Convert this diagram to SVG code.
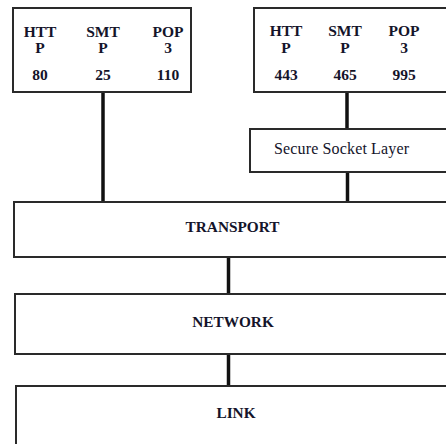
<svg xmlns="http://www.w3.org/2000/svg" width="446" height="444" viewBox="0 0 446 444">
<style>
.box{fill:#fff;stroke:#2a2a2a;stroke-width:2}
.con{stroke:#111;stroke-width:3.5;fill:none}
.b{font-family:"Liberation Serif",serif;font-weight:bold;font-size:15.5px;fill:#14142a;text-anchor:middle}
.l{font-size:15.3px}
.r{font-family:"Liberation Serif",serif;font-size:16px;fill:#14142a}
</style>
<rect width="446" height="444" fill="#fff"/>
<g id="connectors">
<line class="con" x1="103" y1="92" x2="103" y2="202"/>
<line class="con" x1="347" y1="92" x2="347" y2="129"/>
<line class="con" x1="347.5" y1="172" x2="347.5" y2="202"/>
<line class="con" x1="228.5" y1="257" x2="228.5" y2="294"/>
<line class="con" x1="228.5" y1="354" x2="228.5" y2="386"/>
</g>
<g id="apps-left">
<rect class="box" x="13" y="8" width="178" height="84"/>
<text class="b" x="40" y="37">HTT</text><text class="b" x="40" y="53">P</text><text class="b" x="40" y="80">80</text>
<text class="b" x="103" y="37">SMT</text><text class="b" x="103" y="53">P</text><text class="b" x="103" y="80">25</text>
<text class="b" x="168" y="37">POP</text><text class="b" x="168" y="53">3</text><text class="b" x="168" y="80">110</text>
</g>
<g id="apps-right">
<rect class="box" x="254" y="8" width="220" height="84"/>
<text class="b" x="286" y="36">HTT</text><text class="b" x="286" y="53">P</text><text class="b" x="286" y="80">443</text>
<text class="b" x="345" y="36">SMT</text><text class="b" x="345" y="53">P</text><text class="b" x="345" y="80">465</text>
<text class="b" x="404" y="36">POP</text><text class="b" x="404" y="53">3</text><text class="b" x="404" y="80">995</text>
</g>
<g id="ssl">
<rect class="box" x="250" y="129" width="220" height="43"/>
<text class="r" x="274" y="154" textLength="135">Secure Socket Layer</text>
</g>
<g id="transport">
<rect class="box" x="14" y="202" width="460" height="55"/>
<text class="b l" x="232.5" y="232">TRANSPORT</text>
</g>
<g id="network">
<rect class="box" x="15" y="294" width="460" height="60"/>
<text class="b l" x="233" y="327">NETWORK</text>
</g>
<g id="link">
<rect class="box" x="16" y="386" width="460" height="80"/>
<text class="b l" x="236" y="418">LINK</text>
</g>
</svg>
